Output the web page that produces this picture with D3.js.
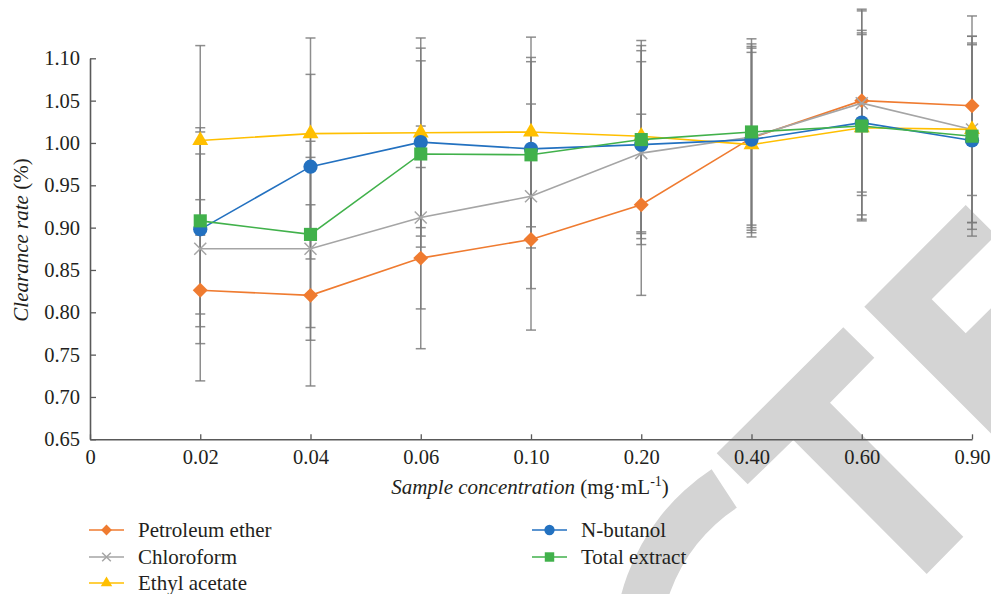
<!DOCTYPE html>
<html>
<head>
<meta charset="utf-8">
<script src="https://d3js.org/d3.v7.min.js"></script>
<style>
  body { margin: 0; background: #fff; }
  svg text { font-family: "Liberation Serif", "DejaVu Serif", serif; fill: #231f20; }
</style>
</head>
<body>
<script>
// x categories (mg/mL); "0" carries no data
var concentrations = ["0", "0.02", "0.04", "0.06", "0.10", "0.20", "0.40", "0.60", "0.90"];
var seriesNames = ["Petroleum ether", "Chloroform", "Ethyl acetate", "N-butanol", "Total extract"];

// clearance rate, one value per non-zero concentration
var petroleumEther = [0.826, 0.820, 0.864, 0.886, 0.927, 1.006, 1.050, 1.044];
var chloroform     = [0.875, 0.875, 0.912, 0.937, 0.988, 1.007, 1.047, 1.016];
var ethylAcetate   = [1.003, 1.011, 1.012, 1.013, 1.008, 0.998, 1.018, 1.016];
var nButanol       = [0.898, 0.972, 1.001, 0.993, 0.998, 1.004, 1.024, 1.003];
var totalExtract   = [0.908, 0.892, 0.987, 0.986, 1.004, 1.013, 1.020, 1.008];

// error bar half-lengths
var petroleumErr = [0.107, 0.107, 0.107, 0.107, 0.107, 0.106, 0.108, 0.106];
var chloroErr    = [0.112, 0.108, 0.108, 0.109, 0.108, 0.110, 0.109, 0.110];
var ethylErr     = [0.112, 0.113, 0.112, 0.112, 0.113, 0.109, 0.110, 0.110];
var butanolErr   = [0.115, 0.109, 0.111, 0.108, 0.111, 0.110, 0.109, 0.113];
var totalErr     = [0.110, 0.110, 0.110, 0.110, 0.111, 0.110, 0.110, 0.110];

var yTicks = [0.65, 0.70, 0.75, 0.80, 0.85, 0.90, 0.95, 1.00, 1.05, 1.10];

var colors = ["#ef7b30", "#a5a5a5", "#ffbf00", "#2371c0", "#41b14b"];
var shapes = ["diamond", "x", "triangle", "circle", "square"];

var values = [petroleumEther, chloroform, ethylAcetate, nButanol, totalExtract];
var errors = [petroleumErr, chloroErr, ethylErr, butanolErr, totalErr];

var series = seriesNames.map(function (name, s) {
  return {
    name: name, color: colors[s], shape: shapes[s],
    points: values[s].map(function (v, i) {
      return { c: concentrations[i + 1], v: v, e: errors[s][i] };
    })
  };
});

var W = 991, H = 594;
var svg = d3.select("body").append("svg")
  .attr("width", W).attr("height", H);

// faint watermark behind the chart
var wm = svg.append("g").attr("fill", "#d4d4d4");
wm.append("path")
  .attr("transform", "translate(830,650)")
  .attr("d", d3.arc()({ innerRadius: 170, outerRadius: 216, startAngle: -Math.PI, endAngle: -0.58 }));
var wmT = [[716.7,453.3],[843.3,327.3],[874.3,357.7],[830,402.7],[963.3,536.7],[926.7,574],[793.3,440],[747.7,484.3]];
var wmF = [[864.3,306.7],[965.7,205],[1000,239.3],[1000,231],[931.7,299.3],[965.7,333.3],[1000,299.3],[1000,442.4]];
wm.append("path").attr("d", "M" + wmT.join("L") + "Z");
wm.append("path").attr("d", "M" + wmF.join("L") + "Z");

var x = d3.scalePoint().domain(concentrations).range([90, 972]);
var y = d3.scaleLinear().domain([0.65, 1.10]).range([439.3, 58.3]);

// axes
var yAxis = svg.append("g")
  .attr("transform", "translate(90,0)")
  .call(d3.axisLeft(y).tickValues(yTicks).tickFormat(d3.format(".2f"))
    .tickSizeInner(-6).tickSizeOuter(0).tickPadding(10));
var xAxis = svg.append("g")
  .attr("transform", "translate(0,439.3)")
  .call(d3.axisBottom(x).tickSizeInner(-5).tickSizeOuter(0).tickPadding(10));
[xAxis, yAxis].forEach(function (a) {
  a.select(".domain").attr("stroke", "#595959").attr("stroke-width", 1.6);
  a.selectAll(".tick line").attr("stroke", "#595959").attr("stroke-width", 1.3);
  a.selectAll(".tick text").style("font-size", "20.5px").attr("fill", "#231f20");
});

// axis titles
var yt = svg.append("text")
  .attr("transform", "translate(28,240) rotate(-90)")
  .attr("text-anchor", "middle").style("font-size", "21px");
yt.append("tspan").style("font-style", "italic").text("Clearance rate");
yt.append("tspan").text(" (%)");

var xt = svg.append("text")
  .attr("x", 530).attr("y", 494)
  .attr("text-anchor", "middle").style("font-size", "21px");
xt.append("tspan").style("font-style", "italic").text("Sample concentration");
xt.append("tspan").text(" (mg\u00b7mL");
xt.append("tspan").attr("dy", -8).style("font-size", "14px").text("-1");
xt.append("tspan").attr("dy", 8).text(")");

// error bars
var eb = svg.append("g").attr("stroke", "#7a7a7a").attr("stroke-width", 1.5).attr("stroke-opacity", 0.85);
series.forEach(function (s) {
  s.points.forEach(function (p) {
    var cx = x(p.c), y1 = y(p.v + p.e), y2 = y(p.v - p.e);
    eb.append("line").attr("x1", cx).attr("x2", cx).attr("y1", y1).attr("y2", y2);
    eb.append("line").attr("x1", cx - 5).attr("x2", cx + 5).attr("y1", y1).attr("y2", y1);
    eb.append("line").attr("x1", cx - 5).attr("x2", cx + 5).attr("y1", y2).attr("y2", y2);
  });
});

// marker path
function marker(shape, k) {
  if (shape === "x") {
    var r = 6 * k;
    return "M" + (-r) + "," + (-r) + "L" + r + "," + r + "M" + (-r) + "," + r + "L" + r + "," + (-r);
  }
  var sym = { diamond: d3.symbolSquare, triangle: d3.symbolTriangle, circle: d3.symbolCircle, square: d3.symbolSquare }[shape];
  var size = { diamond: 112, triangle: 110, circle: 160, square: 172 }[shape];
  return d3.symbol().type(sym).size(size * k * k)();
}
function drawMarker(g, s, cx, cy, k) {
  var m = g.append("path")
    .attr("d", marker(s.shape, k))
    .attr("transform", "translate(" + cx + "," + cy + ")" + (s.shape === "diamond" ? " rotate(45)" : ""));
  if (s.shape === "x") m.attr("fill", "none").attr("stroke", s.color).attr("stroke-width", 1.5);
  else m.attr("fill", s.color);
}

var line = d3.line().x(function (d) { return x(d.c); }).y(function (d) { return y(d.v); });
series.forEach(function (s) {
  var g = svg.append("g");
  g.append("path").datum(s.points)
    .attr("d", line).attr("fill", "none")
    .attr("stroke", s.color).attr("stroke-width", 1.6);
  s.points.forEach(function (p) { drawMarker(g, s, x(p.c), y(p.v), 1); });
});

// legend
var legendPos = [
  { lx: 89, ty: 530 }, { lx: 89, ty: 557 }, { lx: 89, ty: 583 },
  { lx: 532, ty: 530 }, { lx: 532, ty: 557 }
];
series.forEach(function (s, i) {
  var p = legendPos[i];
  var g = svg.append("g");
  g.append("line").attr("x1", p.lx).attr("x2", p.lx + 35)
    .attr("y1", p.ty).attr("y2", p.ty)
    .attr("stroke", s.color).attr("stroke-width", 1.6);
  drawMarker(g, s, p.lx + 17.5, p.ty, 0.72);
  g.append("text").attr("x", p.lx + 49).attr("y", p.ty + 7)
    .style("font-size", "21px").text(s.name);
});
</script>
</body>
</html>
